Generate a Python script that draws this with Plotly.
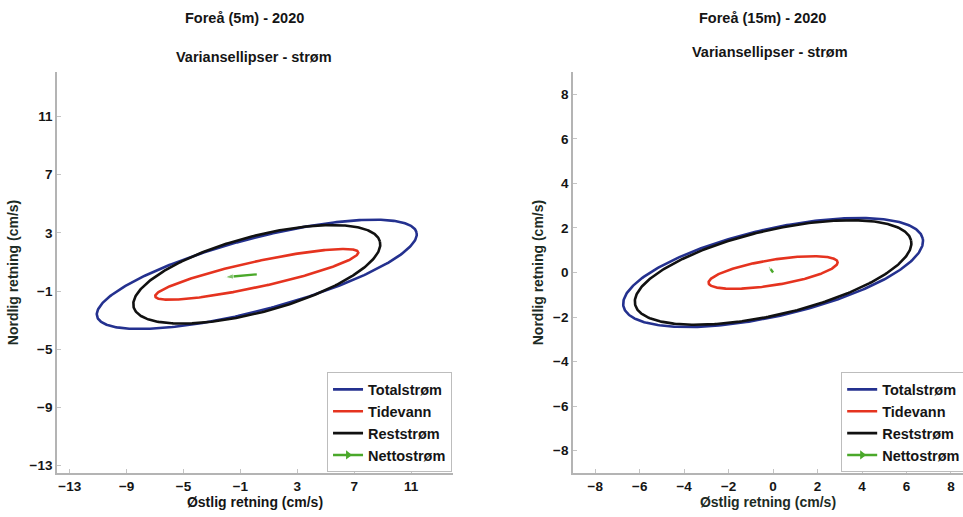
import numpy as np
import plotly.graph_objects as go

# Variance ellipses of the current at Foreå, 2020 (cm/s)
components = ["Totalstrøm", "Tidevann", "Reststrøm"]
component_colors = ["#24318f", "#e5331f", "#111111"]

# 5 m depth
semi_major_5m = [11.6, 7.3, 8.95]
semi_minor_5m = [2.48, 0.88, 2.61]
angle_5m = [14.4, 12.0, 14.6]          # degrees from east, anticlockwise
centre_5m = [0.15, 0.15]               # east, north
netto_5m = [-2.25, -0.2]               # net current vector (east, north)

# 15 m depth
semi_major_15m = [6.9, 2.94, 6.37]
semi_minor_15m = [1.96, 0.57, 1.9]
angle_15m = [12.8, 9.2, 13.1]
centre_15m = [0.0, 0.0]
netto_15m = [-0.22, 0.3]

ticks_5m = [-13, -9, -5, -1, 3, 7, 11]
ticks_15m = [-8, -6, -4, -2, 0, 2, 4, 6, 8]

FONT = "Liberation Sans, Arial, sans-serif"
TXT = "#151515"
AXIS_TITLE = "#1d2b24"
NETTO_COLOR = "#4aa82a"


def ellipse(a, b, ang_deg, centre, n=361):
    t = np.linspace(0, 2 * np.pi, n)
    th = np.deg2rad(ang_deg)
    x = centre[0] + a * np.cos(th) * np.cos(t) - b * np.sin(th) * np.sin(t)
    y = centre[1] + a * np.sin(th) * np.cos(t) + b * np.cos(th) * np.sin(t)
    return x, y


fig = go.Figure()

panels = [
    ("x", "y", "legend", semi_major_5m, semi_minor_5m, angle_5m, centre_5m, netto_5m, 9),
    ("x2", "y2", "legend2", semi_major_15m, semi_minor_15m, angle_15m, centre_15m, netto_15m, 4),
]

for xa, ya, leg, amaj, amin, angs, c, net, head in panels:
    for name, col, a, b, ang in zip(components, component_colors, amaj, amin, angs):
        ex, ey = ellipse(a, b, ang, c)
        fig.add_trace(go.Scatter(
            x=ex, y=ey, mode="lines", name=name, legend=leg,
            line=dict(color=col, width=2.6), xaxis=xa, yaxis=ya,
            hoverinfo="skip"))
    # net current arrow from the centre
    fig.add_trace(go.Scatter(
        x=[c[0], c[0] + net[0]], y=[c[1], c[1] + net[1]],
        mode="lines+markers", showlegend=False, xaxis=xa, yaxis=ya,
        line=dict(color=NETTO_COLOR, width=2.4),
        marker=dict(symbol=["circle", "arrow"], size=[0, head],
                    angleref="previous", color=NETTO_COLOR),
        hoverinfo="skip"))
    # legend entry for the net current
    fig.add_trace(go.Scatter(
        x=[None], y=[None], mode="lines+markers", name="Nettostrøm", legend=leg,
        line=dict(color=NETTO_COLOR, width=2.4),
        marker=dict(symbol="triangle-right", size=8, color=NETTO_COLOR),
        xaxis=xa, yaxis=ya))

axis_common = dict(
    showgrid=False, zeroline=False, showline=True, linecolor="#b4b4b4",
    linewidth=1.6, ticks="inside", ticklen=4, tickcolor="#c4c4c4",
    tickfont=dict(family=FONT, size=13.5, color=TXT, weight="bold"), mirror=False,
)

title_font = dict(family=FONT, size=14, color=TXT, weight="bold")
title_font_g = dict(family=FONT, size=14, color=AXIS_TITLE, weight="bold")
legend_font = dict(family=FONT, size=14.5, color=TXT, weight="bold")

fig.update_layout(
    width=963, height=517,
    margin=dict(l=0, r=0, t=0, b=0, autoexpand=False),
    paper_bgcolor="white", plot_bgcolor="white",
    font=dict(family=FONT, color=TXT),
    xaxis=dict(axis_common, domain=[0.0592, 0.4704], range=[-13.9, 13.95],
               tickvals=ticks_5m, anchor="y",
               title=dict(text="Østlig retning (cm/s)", standoff=4, font=title_font)),
    yaxis=dict(axis_common, domain=[0.0851, 0.8607], range=[-13.5, 14.05],
               tickvals=ticks_5m, anchor="x",
               title=dict(text="Nordlig retning (cm/s)", standoff=8, font=title_font_g)),
    xaxis2=dict(axis_common, domain=[0.595, 1.0], range=[-9, 8.54],
                tickvals=ticks_15m, anchor="y2",
                title=dict(text="Østlig retning (cm/s)", standoff=4, font=title_font_g)),
    yaxis2=dict(axis_common, domain=[0.0851, 0.8607], range=[-9, 9],
                tickvals=ticks_15m, anchor="x2",
                title=dict(text="Nordlig retning (cm/s)", standoff=6, font=title_font_g)),
    legend=dict(x=0.4694, y=0.0861, xanchor="right", yanchor="bottom",
                bgcolor="white", bordercolor="#bdbdbd", borderwidth=1,
                font=legend_font, tracegroupgap=0, itemwidth=30),
    legend2=dict(x=0.8735, y=0.0861, xanchor="left", yanchor="bottom",
                 bgcolor="white", bordercolor="#bdbdbd", borderwidth=1,
                 font=legend_font, tracegroupgap=0, itemwidth=30),
    showlegend=True,
)

titles = [
    ("Foreå (5m) - 2020", 244, 18),
    ("Variansellipser - strøm", 254, 57),
    ("Foreå (15m) - 2020", 762, 18),
    ("Variansellipser - strøm", 770, 52),
]
for text, px, py in titles:
    fig.add_annotation(text=text, xref="paper", yref="paper",
                       x=px / 963, y=1 - py / 517, showarrow=False,
                       xanchor="center", yanchor="middle",
                       font=dict(family=FONT, size=14.5, color=TXT, weight="bold"))

fig.write_html("out.html")
